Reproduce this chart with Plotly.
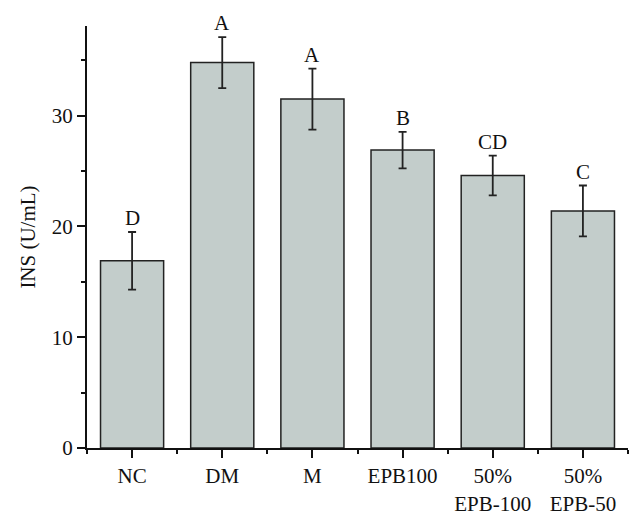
import plotly.graph_objects as go

categories = ["NC", "DM", "M", "EPB100", "50%<br>EPB-100", "50%<br>EPB-50"]
means = [16.9, 34.8, 31.5, 26.9, 24.6, 21.4]
errors = [2.6, 2.3, 2.75, 1.65, 1.8, 2.3]
letters = ["D", "A", "A", "B", "CD", "C"]

xpos = list(range(len(categories)))
FONT = "Liberation Serif"

fig = go.Figure()
fig.add_trace(go.Bar(
    x=xpos, y=means, width=0.7,
    marker=dict(color="#c3cdcb", line=dict(color="#222222", width=1.5)),
    error_y=dict(type="data", array=errors, visible=True, color="#222222",
                 thickness=1.8, width=4),
))

for xi, m, e, lab in zip(xpos, means, errors, letters):
    fig.add_annotation(x=xi, y=m + e, text=lab, showarrow=False,
                       yanchor="middle", yshift=14,
                       font=dict(family=FONT, size=21, color="#111111"))

fig.update_layout(
    width=643, height=521,
    margin=dict(l=79, r=23, t=18, b=81),
    plot_bgcolor="white", paper_bgcolor="white",
    showlegend=False,
    font=dict(family=FONT, size=21, color="#111111"),
)
fig.update_xaxes(
    range=[-0.5, 5.5], tickmode="array", tickvals=xpos, ticktext=categories,
    showline=True, linecolor="#111111", linewidth=2,
    ticks="outside", ticklen=8, tickwidth=1.5, tickcolor="#111111",
    minor=dict(tickmode="linear", tick0=0.5, dtick=1, ticks="outside",
               ticklen=4, tickwidth=1.5, tickcolor="#111111"),
    showgrid=False, zeroline=False,
    tickfont=dict(family=FONT, size=21),
)
fig.update_yaxes(
    range=[0, 38.1], tickmode="linear", tick0=0, dtick=10,
    showline=True, linecolor="#111111", linewidth=2,
    ticks="outside", ticklen=8, tickwidth=1.5, tickcolor="#111111",
    minor=dict(tickmode="linear", tick0=5, dtick=10, ticks="outside",
               ticklen=4, tickwidth=1.5, tickcolor="#111111"),
    showgrid=False, zeroline=False,
    tickfont=dict(family=FONT, size=21),
    title=dict(text="INS (U/mL)", font=dict(family=FONT, size=21), standoff=10),
)

fig.write_html("out.html")
